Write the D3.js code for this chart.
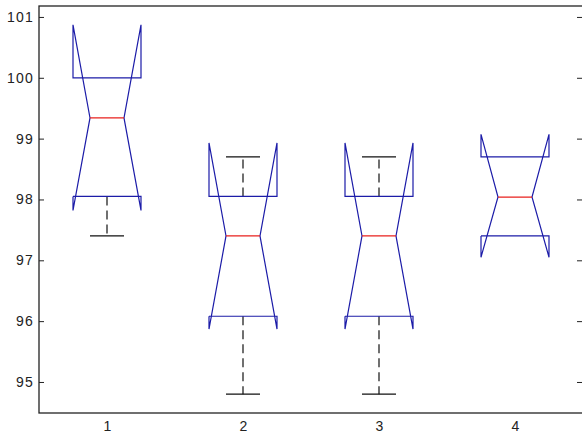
<!DOCTYPE html>
<html>
<head>
<meta charset="utf-8">
<script src="https://cdn.jsdelivr.net/npm/d3@7"></script>
<style>
  body { margin: 0; background: #fff; }
  svg { display: block; }
</style>
</head>
<body>
<svg class="main" width="582" height="436"></svg>
<script>
// данные ящиков
const groups = [1, 2, 3, 4];
const q1 = [98.05, 96.08, 96.08, 97.4];
const medians = [99.34, 97.4, 97.4, 98.04];
const q3 = [100.0, 98.05, 98.05, 98.7];
const notchLo = [97.82, 95.87, 95.87, 97.05];
const notchHi = [100.87, 98.93, 98.93, 99.07];
const whiskLo = [97.4, 94.8, 94.8, 97.4];
const whiskHi = [100.0, 98.7, 98.7, 98.7];
const yTicks = [95, 96, 97, 98, 99, 100, 101];

const svg = d3.select("svg.main");
const padL = 39, padR = 583, padT = 6, padB = 413;

const x = d3.scaleLinear().domain([0.5, 4.5]).range([padL, padR]);
const y = d3.scaleLinear().domain([94.49, 101.18]).range([padB, padT]);

const boxColor = "#1c1ca8";
const halfW = 0.25, notchW = 0.125, capW = 0.125;
const font = "Liberation Sans, Arial, sans-serif";

// рамка осей
svg.append("rect")
    .attr("x", padL).attr("y", padT)
    .attr("width", padR - padL).attr("height", padB - padT)
    .attr("fill", "none").attr("stroke", "#222").attr("stroke-width", 1.3);

// засечки слева и справа
const yAxisL = d3.axisLeft(y).tickValues(yTicks).tickSize(-5).tickPadding(5).tickFormat(d3.format("d"));
const gL = svg.append("g").attr("transform", `translate(${padL},0)`).call(yAxisL);
gL.select(".domain").remove();
gL.selectAll("line").attr("stroke", "#222");
gL.selectAll("text").attr("font-family", font).attr("font-size", 14)
    .attr("letter-spacing", "1.2px").attr("fill", "#222");

const yAxisR = d3.axisRight(y).tickValues(yTicks).tickSize(-6).tickFormat("");
const gR = svg.append("g").attr("transform", `translate(${padR},0)`).call(yAxisR);
gR.select(".domain").remove();
gR.selectAll("line").attr("stroke", "#222");

const xAxis = d3.axisBottom(x).tickValues(groups).tickSize(0).tickPadding(8).tickFormat(d3.format("d"));
const gX = svg.append("g").attr("transform", `translate(0,${padB})`).call(xAxis);
gX.select(".domain").remove();
gX.selectAll("text").attr("font-family", font).attr("font-size", 14).attr("fill", "#222");

const line = d3.line().x(d => x(d[0])).y(d => y(d[1]));

groups.forEach((g, i) => {
    // усы
    if (whiskHi[i] > q3[i]) {
        svg.append("path").attr("d", line([[g, q3[i]], [g, whiskHi[i]]]))
            .attr("stroke", "#111").attr("stroke-width", 1.2).attr("stroke-dasharray", "9,5").attr("fill", "none");
        svg.append("path").attr("d", line([[g - capW, whiskHi[i]], [g + capW, whiskHi[i]]]))
            .attr("stroke", "#111").attr("stroke-width", 1.2).attr("fill", "none");
    }
    if (whiskLo[i] < q1[i]) {
        svg.append("path").attr("d", line([[g, q1[i]], [g, whiskLo[i]]]))
            .attr("stroke", "#111").attr("stroke-width", 1.2).attr("stroke-dasharray", "9,5").attr("fill", "none");
        svg.append("path").attr("d", line([[g - capW, whiskLo[i]], [g + capW, whiskLo[i]]]))
            .attr("stroke", "#111").attr("stroke-width", 1.2).attr("fill", "none");
    }
    // ящик с вырезом
    const pts = [
        [g - halfW, q1[i]], [g - halfW, notchLo[i]], [g - notchW, medians[i]],
        [g - halfW, notchHi[i]], [g - halfW, q3[i]], [g + halfW, q3[i]],
        [g + halfW, notchHi[i]], [g + notchW, medians[i]], [g + halfW, notchLo[i]],
        [g + halfW, q1[i]], [g - halfW, q1[i]]
    ];
    svg.append("path").attr("d", line(pts))
        .attr("stroke", boxColor).attr("stroke-width", 1.2).attr("fill", "none");
    // медиана
    svg.append("path").attr("d", line([[g - notchW, medians[i]], [g + notchW, medians[i]]]))
        .attr("stroke", "#e8201c").attr("stroke-width", 1.2).attr("fill", "none");
});
</script>
</body>
</html>
